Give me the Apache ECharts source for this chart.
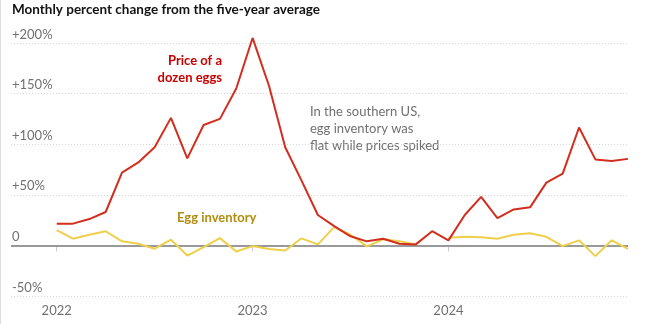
<!DOCTYPE html>
<html><head><meta charset="utf-8">
<script src="https://cdn.jsdelivr.net/npm/echarts@6/dist/echarts.min.js"></script>
<style>html,body{margin:0;padding:0;background:#fff}#c{width:669px;height:324px}</style>
</head><body><div id="c"></div>
<script>
// Month index 0 = Jan 2022 ... 35 = Dec 2024
const tickLabels = ['2022', '2023', '2024'];
const tickIndex = [0, 12, 24];

const price = [21.5, 21.5, 26, 33, 72, 82, 97, 126, 86, 119, 125, 155,
  205, 158, 97, 64, 30, 19, 9, 4, 6.6, 1.7, 1, 14,
  5, 30, 48, 27, 35.5, 37.6, 62, 71, 116.5, 85, 83.5, 85.5];
const inventory = [15, 6.6, 10.6, 14, 4, 1.7, -3.3, 5.6, -10, -1.7, 7.2, -6,
  -0.7, -3.5, -5, 7, 1, 18, 10.5, -1, 6, 4, 1, null,
  7.6, 8.5, 8, 6.6, 10.6, 12, 8.5, -0.7, 5, -10.6, 5, -3.5];

const FONT = 'Lato';
const chart = echarts.init(document.getElementById('c'), null, {renderer: 'canvas'});
chart.setOption({
  animation: false,
  backgroundColor: '#fff',
  textStyle: {fontFamily: FONT},
  title: {
    text: 'Monthly percent change from the five-year average',
    left: 12, top: 3, padding: 0,
    textStyle: {fontFamily: FONT, fontSize: 13.5, fontWeight: 'bold', color: '#121212'}
  },
  grid: {left: 11, right: 41, top: 43, bottom: 28, containLabel: false},
  xAxis: {
    type: 'value', min: -2.8, max: 35,
    axisLine: {show: false},
    splitLine: {show: false},
    axisTick: {show: true, length: 6, lineStyle: {color: '#cccccc'}, customValues: tickIndex},
    axisLabel: {
      customValues: tickIndex, margin: 8,
      color: '#707070', fontSize: 13, fontFamily: FONT,
      formatter: v => tickLabels[tickIndex.indexOf(Math.round(v))] || ''
    }
  },
  yAxis: {
    type: 'value', min: -50, max: 200, interval: 50,
    axisLine: {show: false}, axisTick: {show: false},
    splitLine: {show: true, lineStyle: {color: '#d6d6d6', type: [1, 2], width: 1}},
    axisLabel: {
      inside: true, margin: 1, verticalAlign: 'bottom', padding: [0, 0, 2, 0],
      color: '#707070', fontSize: 13, fontFamily: FONT,
      formatter: v => v > 0 ? '+' + v + '%' : (v === 0 ? '0' : v + '%')
    }
  },
  series: [
    {
      name: 'Egg inventory', type: 'line', data: inventory.map((v, i) => [i, v]),
      showSymbol: false, symbol: 'none', connectNulls: false, clip: false,
      lineStyle: {color: '#eecf4c', width: 2}, z: 3,
      markLine: {
        silent: true, symbol: 'none', label: {show: false},
        lineStyle: {color: '#999999', type: 'solid', width: 2},
        data: [{yAxis: 0}], z: 2
      }
    },
    {
      name: 'Price of a dozen eggs', type: 'line', data: price.map((v, i) => [i, v]),
      showSymbol: false, symbol: 'none', clip: false,
      lineStyle: {color: '#d22e1e', width: 2}, z: 4
    }
  ],
  graphic: [
    {type: 'rect', left: 0, top: 0, shape: {width: 1, height: 324}, style: {fill: '#dcdcdc'}},
    {type: 'text', right: 669 - 222, top: 52, style: {
      text: 'Price of a\ndozen eggs', fill: '#c70000', font: 'bold 13px "' + FONT + '"',
      textAlign: 'right', lineHeight: 17}},
    {type: 'text', left: 310, top: 103, style: {
      text: 'In the southern US,\negg inventory was\nflat while prices spiked', fill: '#707070',
      font: '13px "' + FONT + '"', lineHeight: 17}},
    {type: 'text', left: 177, top: 211, style: {
      text: 'Egg inventory', fill: '#b08d12', font: 'bold 13px "' + FONT + '"'}}
  ]
});
</script></body></html>
